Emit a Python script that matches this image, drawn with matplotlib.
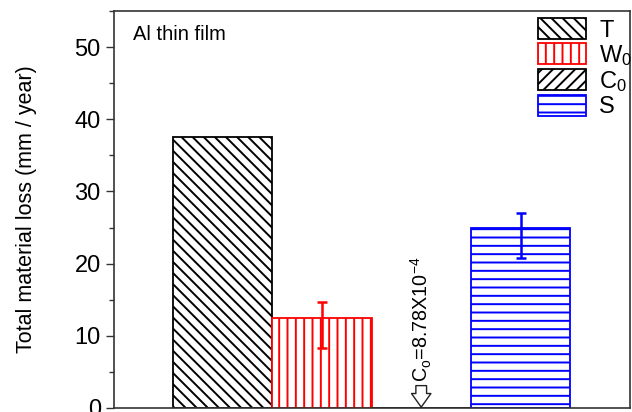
import matplotlib
matplotlib.use("Agg")
import matplotlib.pyplot as plt
from matplotlib.patches import Patch
from matplotlib.ticker import MultipleLocator

plt.rcParams['font.family'] = ['Liberation Sans', 'DejaVu Sans']
plt.rcParams['mathtext.fontset'] = 'custom'
plt.rcParams['mathtext.rm'] = 'Liberation Sans'
plt.rcParams['mathtext.it'] = 'Liberation Sans:italic'
plt.rcParams['mathtext.default'] = 'regular'
plt.rcParams['hatch.linewidth'] = 1.4

# data
categories = ['T', 'W$_0$', 'C$_0$', 'S']
values = [37.6, 12.4, 8.78e-4, 24.9]
err_centers = [None, 11.5, None, 23.9]
errors = [None, 3.2, None, 3.1]
colors = ['black', 'red', 'black', 'blue']
hatches = ['\\\\\\', '||', '///', '--']
annotation = 'C$_o$=8.78X10$^{-4}$'
panel_label = 'Al thin film'
ylabel = 'Total material loss (mm / year)'

fig = plt.figure(figsize=(6.32, 4.12), dpi=100)
ax = fig.add_axes([114/632, 1-408/412, (630-114)/632, (408-11)/412])

x = list(range(len(categories)))
for i in x:
    ax.bar(x[i], values[i], width=1.0, facecolor='white', edgecolor=colors[i],
           hatch=hatches[i], linewidth=1.3, zorder=2)
    if errors[i] is not None:
        ax.errorbar(x[i], err_centers[i], yerr=errors[i], color=colors[i], capsize=3.6,
                    elinewidth=1.8, capthick=1.8, zorder=3)

ax.set_xlim(-1.09, 4.1)
ax.set_ylim(0, 55)
ax.yaxis.set_major_locator(MultipleLocator(10))
ax.yaxis.set_minor_locator(MultipleLocator(5))
ax.tick_params(axis='y', which='major', direction='out', length=6, width=1.0,
               labelsize=17, color='#333333')
ax.tick_params(axis='y', which='minor', direction='out', length=3.5, width=1.0, color='#333333')
ax.tick_params(axis='x', which='both', bottom=False, labelbottom=False)
for s in ax.spines.values():
    s.set_linewidth(1.2)
    s.set_color('#333333')

ax.set_ylabel(ylabel, fontsize=15.5, labelpad=27)

ax.text(0.037, 0.965, panel_label, transform=ax.transAxes, fontsize=14.5,
        ha='left', va='top')

# annotation for C0: hollow down arrow (drawn as shape) and rotated label
ax.annotate('', xy=(2.0, 0.12), xytext=(2.0, 3.1),
            arrowprops=dict(arrowstyle='simple,head_length=0.7,head_width=1.0,tail_width=0.55',
                            fc='white', ec='#222222', lw=1.0, shrinkA=0, shrinkB=0,
                            mutation_scale=14))
ax.text(2.0, 3.6, annotation, rotation=90, ha='center', va='bottom', fontsize=14.2)

handles = [Patch(facecolor='white', edgecolor=colors[i], hatch=hatches[i], linewidth=1.3)
           for i in x]
leg = ax.legend(handles, categories, loc='upper right', bbox_to_anchor=(1.018, 1.0),
                frameon=False, fontsize=17, handlelength=2.05, handleheight=0.97,
                labelspacing=0.05, handletextpad=0.55, borderaxespad=0.1,
                borderpad=0.2)

fig.savefig('out.png', dpi=100)
